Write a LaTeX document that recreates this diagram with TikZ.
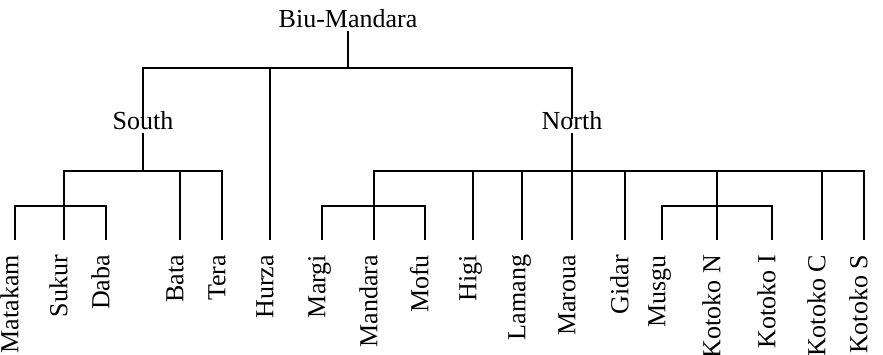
\documentclass[tikz,border=0pt]{standalone}
\usepackage{fontspec}
\setmainfont{Liberation Serif}
\begin{document}
\begin{tikzpicture}[x=1pt,y=-1pt,line width=1.4pt,
  every node/.style={font=\fontsize{26}{30}\selectfont},
  group/.style={inner sep=0pt,anchor=base,text height=1.0em,text depth=0.25em},
  leaf/.style={rotate=90,anchor=east,inner sep=0pt,outer xsep=15pt,text height=0.66em,text depth=0pt}]
\useasboundingbox (0,0) rectangle (883,355);
% bar levels
\coordinate (top) at (0,68);
\coordinate (bar) at (0,171);
\coordinate (sub) at (0,206);
% inner nodes
\node[group] (root) at (348,28) {Biu-Mandara};
\node[group] (south) at (143,130) {South};
\node[group] (north) at (572,130) {North};
% leaves
\node[leaf] (matakam) at (15,240) {Matakam};
\node[leaf] (sukur) at (64,240) {Sukur};
\node[leaf] (daba) at (106,240) {Daba};
\node[leaf] (bata) at (180,240) {Bata};
\node[leaf] (tera) at (222,240) {Tera};
\node[leaf] (hurza) at (270,240) {Hurza};
\node[leaf] (margi) at (322,240) {Margi};
\node[leaf] (mandara) at (374,240) {Mandara};
\node[leaf] (mofu) at (425,240) {Mofu};
\node[leaf] (higi) at (473,240) {Higi};
\node[leaf] (lamang) at (522,240) {Lamang};
\node[leaf] (maroua) at (572,240) {Maroua};
\node[leaf] (gidar) at (625,240) {Gidar};
\node[leaf] (musgu) at (662,240) {Musgu};
\node[leaf] (kotokon) at (717,240) {Kotoko N};
\node[leaf] (kotokoi) at (772,240) {Kotoko I};
\node[leaf] (kotokoc) at (822,240) {Kotoko C};
\node[leaf] (kotokos) at (864,240) {Kotoko S};
% top level
\draw (root.south) -- (root.south |- top);
\draw (south.north) |- (north.north |- top) -- (north.north);
\draw (hurza.east) -- (hurza.east |- top);
% South branch
\draw (south.south) -- (south.south |- bar);
\draw (sukur.east) |- (tera.east |- bar) -- (tera.east);
\draw (bata.east) -- (bata.east |- bar);
\draw (matakam.east) |- (daba.east |- sub) -- (daba.east);
% North branch
\draw (north.south) -- (north.south |- bar);
\draw (mandara.east) |- (kotokos.east |- bar) -- (kotokos.east);
\foreach \n in {higi,lamang,maroua,gidar,kotokon,kotokoc}
  \draw (\n.east) -- (\n.east |- bar);
\draw (margi.east) |- (mofu.east |- sub) -- (mofu.east);
\draw (musgu.east) |- (kotokoi.east |- sub) -- (kotokoi.east);
\end{tikzpicture}
\end{document}
